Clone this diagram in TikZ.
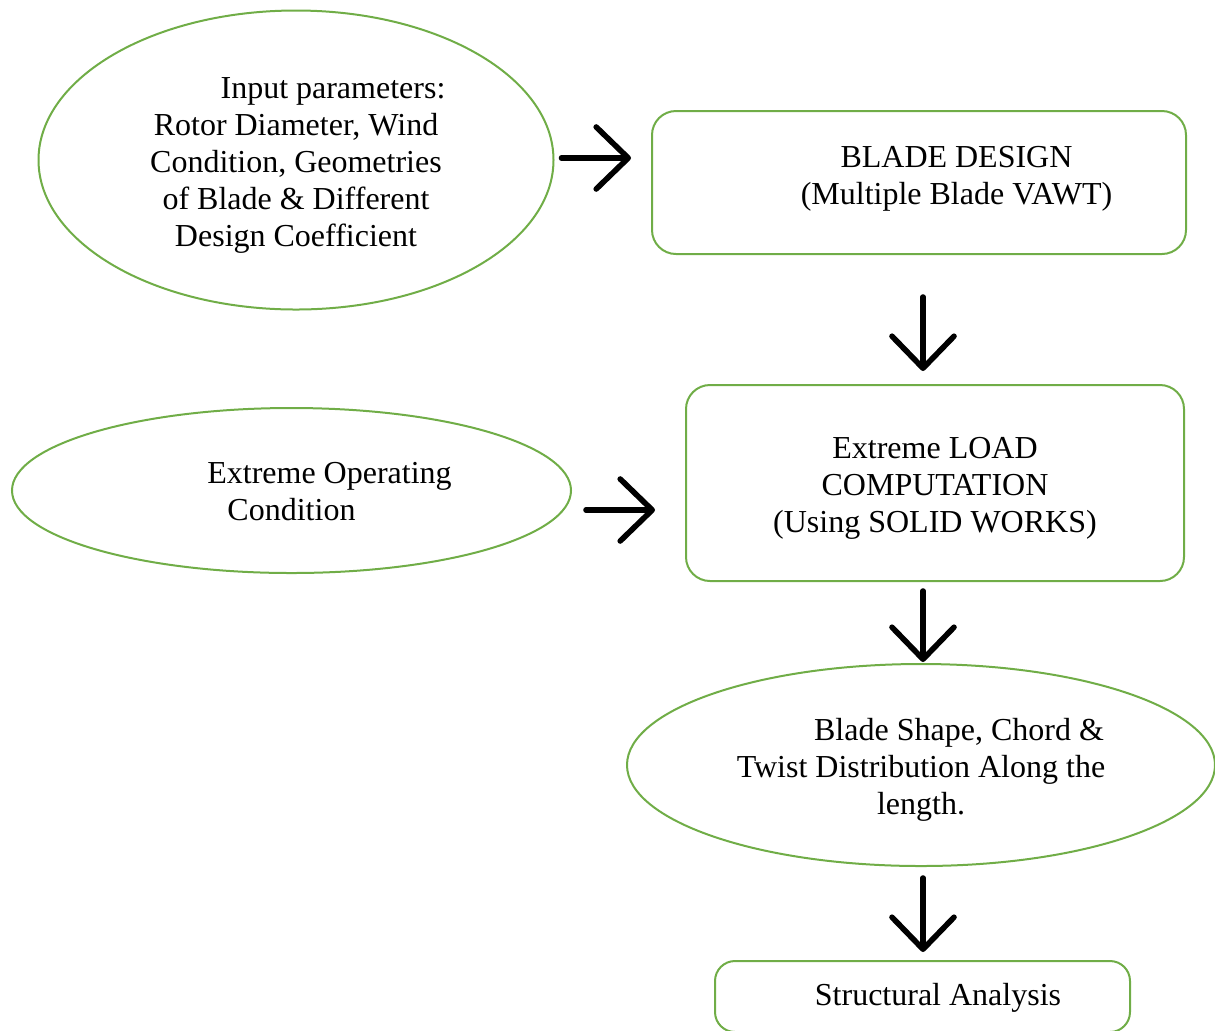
\documentclass[tikz,border=0pt]{standalone}
\usepackage{fontspec}
\setmainfont{Liberation Serif}
\usetikzlibrary{calc, shapes.geometric, arrows.meta, positioning}
\definecolor{leafgreen}{RGB}{112,173,71}

\begin{document}
\begin{tikzpicture}[
        x=0.5pt, y=-0.5pt,
        every node/.style={font=\fontsize{16}{18.5}\selectfont, align=center},
        oval/.style={ellipse, draw=leafgreen, line width=1pt, inner sep=0pt},
        roundbox/.style={rectangle, rounded corners=12pt, draw=leafgreen, line width=1pt},
        flow/.style={draw=black, line width=2.8pt, line cap=round,
            -{Straight Barb[length=16pt, width=31pt, line cap=round, line join=round]}}
    ]
    \useasboundingbox (0,0) rectangle (1215,1030);

    % Ovale
    \node[oval, minimum width=257.5pt, minimum height=149.5pt] (input) at (296,160) {};
    \node (inputtext) at (296,165)
        {\hspace*{37pt}Input parameters:\\Rotor Diameter, Wind\\Condition, Geometries\\of Blade \& Different\\Design Coefficient};
    \node[oval, minimum width=279.5pt, minimum height=82.5pt] (operating) at (291.5,490.5) {};
    \node (operatingtext) at (291.5,492) {\hspace*{38pt}Extreme Operating\\Condition};
    \node[oval, minimum width=294pt, minimum height=101pt] (shape) at (921,765) {};
    \node (shapetext) at (921,769.5)
        {\hspace*{38pt}Blade Shape, Chord \&\\Twist Distribution Along the\\length.};

    % Kaesten
    \node[roundbox, minimum width=267pt, minimum height=71.5pt] (design) at (919,182.5) {};
    \node (designtext) at (956.5,178.5) {BLADE DESIGN\\(Multiple Blade VAWT)};
    \node[roundbox, minimum width=249pt, minimum height=98pt] (load) at (935,483) {};
    \node (loadtext) at (935,488) {Extreme LOAD\\COMPUTATION\\(Using SOLID WORKS)};
    \node[roundbox, rounded corners=10pt, minimum width=207.5pt, minimum height=35.5pt] (analysis) at (922.5,996.5) {};
    \node (analysistext) at (938,998) {Structural Analysis};

    % Pfeile
    \draw[flow] ($(input.east)+(7,-2)$) -- ($(input.east -| design.west)+(-20,-2)$);
    \draw[flow] ($(design.south)+(4,42)$) -- ($(design.south |- load.north)+(4,-13)$);
    \draw[flow] ($(operating.east)+(14,19.5)$) -- ($(operating.east -| load.west)+(-30,19.5)$);
    \draw[flow] ($(shape.north |- load.south)+(2,9)$) -- ($(shape.north)+(2,-1)$);
    \draw[flow] ($(shape.south)+(2,11)$) -- ($(shape.south |- analysis.north)+(2,-8)$);

\end{tikzpicture}
\end{document}
